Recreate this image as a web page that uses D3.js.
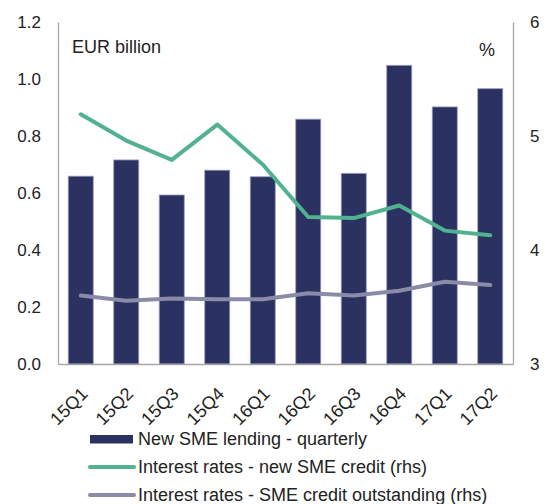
<!DOCTYPE html>
<html>
<head>
<meta charset="utf-8">
<script src="https://cdn.jsdelivr.net/npm/d3@7"></script>
<style>
  body { margin: 0; background: #fff; }
  svg text { font-family: "Liberation Sans", Arial, sans-serif; fill: #222; }
</style>
</head>
<body>
<svg id="chart" width="553" height="504"></svg>
<script>
// Data
const categories = ['15Q1', '15Q2', '15Q3', '15Q4', '16Q1', '16Q2', '16Q3', '16Q4', '17Q1', '17Q2'];
const lending = [0.659, 0.716, 0.593, 0.680, 0.657, 0.859, 0.669, 1.048, 0.902, 0.966];
const rateNew = [5.19, 4.96, 4.79, 5.10, 4.75, 4.29, 4.28, 4.39, 4.17, 4.13];
const rateOutstanding = [3.60, 3.555, 3.575, 3.568, 3.568, 3.62, 3.60, 3.643, 3.722, 3.693];
const leftTicks = [0, 0.2, 0.4, 0.6, 0.8, 1.0, 1.2];
const rightTicks = [3, 4, 5, 6];
const legendLabels = [
  'New SME lending - quarterly',
  'Interest rates - new SME credit (rhs)',
  'Interest rates - SME credit outstanding (rhs)'
];

const svg = d3.select('#chart');
const width = 553;
const height = 504;
const margin = { top: 22, right: 40, bottom: 140, left: 58 };
const fontSize = 17;
const bigFont = 18;

const colors = { bar: '#2b3262', barEdge: '#9a9dbb', green: '#52b28f', grey: '#8a8ca7', axis: '#a6a6a6' };

// Scales
const x = d3.scaleBand()
  .domain(categories)
  .range([margin.left, width - margin.right])
  .paddingInner(0.45)
  .paddingOuter(0.225);

const y = d3.scaleLinear()
  .domain([0, 1.2])
  .range([height - margin.bottom, margin.top]);

const y2 = d3.scaleLinear()
  .domain([3, 6])
  .range([height - margin.bottom, margin.top]);

// Bars
svg.append('g')
  .selectAll('rect')
  .data(lending)
  .enter().append('rect')
  .attr('x', (d, i) => x(categories[i]))
  .attr('y', d => y(d))
  .attr('width', x.bandwidth())
  .attr('height', d => y(0) - y(d))
  .attr('fill', colors.bar)
  .attr('stroke', colors.barEdge)
  .attr('stroke-width', 0.8);

// Lines on the right axis
const line = d3.line()
  .x((d, i) => x(categories[i]) + x.bandwidth() / 2)
  .y(d => y2(d));

svg.append('path')
  .datum(rateOutstanding)
  .attr('d', line)
  .attr('fill', 'none')
  .attr('stroke', colors.grey)
  .attr('stroke-width', 4)
  .attr('stroke-linecap', 'round')
  .attr('stroke-linejoin', 'round');

svg.append('path')
  .datum(rateNew)
  .attr('d', line)
  .attr('fill', 'none')
  .attr('stroke', colors.green)
  .attr('stroke-width', 4)
  .attr('stroke-linecap', 'round')
  .attr('stroke-linejoin', 'round');

// Axes
const leftAxis = svg.append('g')
  .attr('transform', `translate(${margin.left},0)`)
  .call(d3.axisLeft(y).tickValues(leftTicks).tickFormat(d3.format('.1f')).tickSize(0).tickPadding(17));

const rightAxis = svg.append('g')
  .attr('transform', `translate(${width - margin.right},0)`)
  .call(d3.axisRight(y2).tickValues(rightTicks).tickFormat(d3.format('d')).tickSize(0).tickPadding(17));

const bottomAxis = svg.append('g')
  .attr('transform', `translate(0,${height - margin.bottom})`)
  .call(d3.axisBottom(x).tickSize(0));

[leftAxis, rightAxis, bottomAxis].forEach(g => {
  g.select('.domain').attr('stroke', colors.axis).attr('stroke-width', 1.3);
  g.selectAll('text').attr('font-size', fontSize).attr('font-family', null).attr('fill', '#222');
});

bottomAxis.selectAll('text')
  .attr('font-size', bigFont)
  .attr('text-anchor', 'end')
  .attr('dy', null)
  .attr('y', 0)
  .attr('transform', 'translate(8,31) rotate(-45)');

// Unit labels
svg.append('text')
  .attr('x', 72)
  .attr('y', 53)
  .attr('font-size', bigFont)
  .text('EUR billion');

svg.append('text')
  .attr('x', 479)
  .attr('y', 56)
  .attr('font-size', bigFont)
  .text('%');

// Legend
const legend = svg.append('g');
const legendY = [439, 467, 495];

legend.append('rect')
  .attr('x', 90)
  .attr('y', legendY[0] - 4)
  .attr('width', 43)
  .attr('height', 8.5)
  .attr('fill', colors.bar);

[colors.green, colors.grey].forEach((c, i) => {
  legend.append('line')
    .attr('x1', 90)
    .attr('x2', 134)
    .attr('y1', legendY[i + 1])
    .attr('y2', legendY[i + 1])
    .attr('stroke', c)
    .attr('stroke-width', 4)
    .attr('stroke-linecap', 'round');
});

legend.selectAll('text')
  .data(legendLabels)
  .enter().append('text')
  .attr('x', 138)
  .attr('y', (d, i) => legendY[i])
  .attr('dy', '0.35em')
  .attr('font-size', bigFont)
  .text(d => d);
</script>
</body>
</html>
